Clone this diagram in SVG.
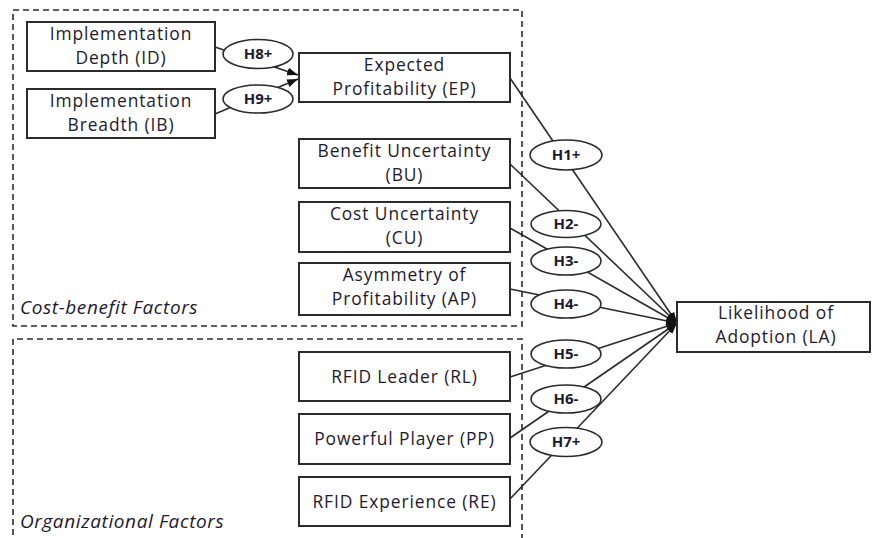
<svg xmlns="http://www.w3.org/2000/svg" width="874" height="538" viewBox="0 0 874 538">
  <style>
    .box { fill: #fff; stroke: #2b2b2b; stroke-width: 2; }
    .hyp { fill: #fff; stroke: #2b2b2b; stroke-width: 1.6; }
    .group { fill: none; stroke: #2b2b2b; stroke-width: 1.6; stroke-dasharray: 6 4; }
    .edge { fill: none; stroke: #2b2b2b; stroke-width: 1.6; }
    .lbl { font-family: "Open Sans", "Noto Sans", "Liberation Sans", sans-serif; font-size: 17.4px; letter-spacing: 0.9px; fill: #1e1a2e; text-anchor: middle; }
    .hl { font-family: "Open Sans", "Noto Sans", "Liberation Sans", sans-serif; font-size: 15px; font-weight: bold; fill: #1e1a2e; text-anchor: middle; }
    .glbl { font-family: "Open Sans", "Noto Sans", "Liberation Sans", sans-serif; font-size: 19px; letter-spacing: 0.6px; font-style: italic; fill: #1e1a2e; }
  </style>
  <defs>
    <marker id="arrow" markerUnits="userSpaceOnUse" markerWidth="12" markerHeight="10" refX="11" refY="4" orient="auto">
      <path d="M0,0 L11,4 L0,8 Z" fill="#111"/>
    </marker>
  </defs>

  <!-- factor groups -->
  <g id="cost-benefit-group">
    <rect class="group" x="13" y="10" width="509" height="316"/>
    <text class="glbl" x="20" y="314">Cost-benefit Factors</text>
  </g>
  <g id="organizational-group">
    <path class="group" d="M13,545 V339 H522 V545"/>
    <text class="glbl" x="20" y="528">Organizational Factors</text>
  </g>

  <!-- connectors -->
  <g id="connectors">
    <line class="edge" x1="215" y1="47" x2="298" y2="75" marker-end="url(#arrow)"/>
    <line class="edge" x1="215" y1="114" x2="298" y2="79" marker-end="url(#arrow)"/>
    <line class="edge" x1="510" y1="78" x2="677" y2="323" marker-end="url(#arrow)"/>
    <line class="edge" x1="510" y1="164" x2="677" y2="323" marker-end="url(#arrow)"/>
    <line class="edge" x1="510" y1="228" x2="677" y2="323" marker-end="url(#arrow)"/>
    <line class="edge" x1="510" y1="289" x2="677" y2="323" marker-end="url(#arrow)"/>
    <line class="edge" x1="510" y1="377" x2="677" y2="323" marker-end="url(#arrow)"/>
    <line class="edge" x1="510" y1="438" x2="677" y2="323" marker-end="url(#arrow)"/>
    <line class="edge" x1="510" y1="499" x2="677" y2="323" marker-end="url(#arrow)"/>
  </g>

  <!-- hypothesis labels -->
  <g id="h8"><ellipse class="hyp" cx="258" cy="54" rx="35" ry="14.5"/><text class="hl" x="258" y="59">H8+</text></g>
  <g id="h9"><ellipse class="hyp" cx="258" cy="99" rx="35" ry="14"/><text class="hl" x="258" y="104">H9+</text></g>
  <g id="h1"><ellipse class="hyp" cx="566" cy="155" rx="36" ry="15"/><text class="hl" x="566" y="160">H1+</text></g>
  <g id="h2"><ellipse class="hyp" cx="566" cy="224" rx="35" ry="13.5"/><text class="hl" x="566" y="229">H2-</text></g>
  <g id="h3"><ellipse class="hyp" cx="566" cy="261" rx="35" ry="14"/><text class="hl" x="566" y="266">H3-</text></g>
  <g id="h4"><ellipse class="hyp" cx="566" cy="304" rx="35" ry="14"/><text class="hl" x="566" y="309">H4-</text></g>
  <g id="h5"><ellipse class="hyp" cx="566" cy="354" rx="35" ry="14"/><text class="hl" x="566" y="359">H5-</text></g>
  <g id="h6"><ellipse class="hyp" cx="566" cy="399" rx="35" ry="14"/><text class="hl" x="566" y="404">H6-</text></g>
  <g id="h7"><ellipse class="hyp" cx="566" cy="442" rx="36" ry="14.5"/><text class="hl" x="566" y="447">H7+</text></g>

  <!-- constructs -->
  <g id="ID">
    <rect class="box" x="27" y="22" width="188" height="49"/>
    <text class="lbl" x="121" y="40">Implementation<tspan x="121" dy="24">Depth (ID)</tspan></text>
  </g>
  <g id="IB">
    <rect class="box" x="27" y="89" width="188" height="49"/>
    <text class="lbl" x="121" y="107">Implementation<tspan x="121" dy="24">Breadth (IB)</tspan></text>
  </g>
  <g id="EP">
    <rect class="box" x="299" y="53" width="211" height="49"/>
    <text class="lbl" x="404.5" y="71">Expected<tspan x="404.5" dy="24">Profitability (EP)</tspan></text>
  </g>
  <g id="BU">
    <rect class="box" x="299" y="139" width="211" height="49"/>
    <text class="lbl" x="404.5" y="157">Benefit Uncertainty<tspan x="404.5" dy="24">(BU)</tspan></text>
  </g>
  <g id="CU">
    <rect class="box" x="299" y="202" width="211" height="50"/>
    <text class="lbl" x="404.5" y="220">Cost Uncertainty<tspan x="404.5" dy="24">(CU)</tspan></text>
  </g>
  <g id="AP">
    <rect class="box" x="299" y="263" width="211" height="52"/>
    <text class="lbl" x="404.5" y="281">Asymmetry of<tspan x="404.5" dy="24">Profitability (AP)</tspan></text>
  </g>
  <g id="RL">
    <rect class="box" x="299" y="352" width="211" height="49"/>
    <text class="lbl" x="404.5" y="383">RFID Leader (RL)</text>
  </g>
  <g id="PP">
    <rect class="box" x="299" y="414" width="211" height="50"/>
    <text class="lbl" x="404.5" y="445">Powerful Player (PP)</text>
  </g>
  <g id="RE">
    <rect class="box" x="299" y="477" width="211" height="49"/>
    <text class="lbl" x="404.5" y="508">RFID Experience (RE)</text>
  </g>
  <g id="LA">
    <rect class="box" x="677" y="302" width="193" height="50"/>
    <text class="lbl" x="776" y="319">Likelihood of<tspan x="776" dy="24">Adoption (LA)</tspan></text>
  </g>
</svg>
